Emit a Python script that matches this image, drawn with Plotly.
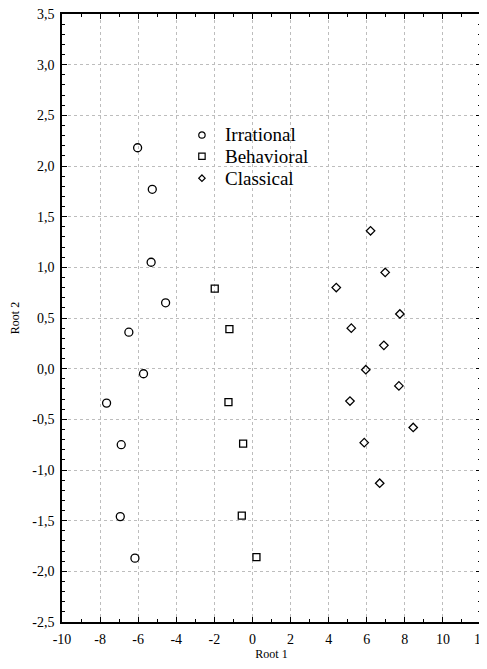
import plotly.graph_objects as go

# Irrational group (circles)
irr_x = [-6.03, -5.26, -5.32, -4.56, -6.49, -5.72, -7.66, -6.89, -6.94, -6.17]
irr_y = [2.18, 1.77, 1.05, 0.65, 0.36, -0.05, -0.34, -0.75, -1.46, -1.87]

# Behavioral group (squares)
beh_x = [-1.98, -1.21, -1.26, -0.49, -0.56, 0.21]
beh_y = [0.79, 0.39, -0.33, -0.74, -1.45, -1.86]

# Classical group (diamonds)
cla_x = [6.20, 6.97, 4.40, 7.74, 5.19, 6.90, 5.95, 7.69, 5.12, 8.44, 5.87, 6.68]
cla_y = [1.36, 0.95, 0.80, 0.54, 0.40, 0.23, -0.01, -0.17, -0.32, -0.58, -0.73, -1.13]

group_names = ["Irrational", "Behavioral", "Classical"]

x_ticks = [-10, -8, -6, -4, -2, 0, 2, 4, 6, 8, 10, 12]
y_ticks = [-2.5, -2.0, -1.5, -1.0, -0.5, 0.0, 0.5, 1.0, 1.5, 2.0, 2.5, 3.0, 3.5]
y_labels = ["-2,5", "-2,0", "-1,5", "-1,0", "-0,5", "0,0", "0,5", "1,0", "1,5", "2,0", "2,5", "3,0", "3,5"]

FONT = "Liberation Serif, Times New Roman, serif"

fig = go.Figure()
series = [
    (group_names[0], irr_x, irr_y, "circle-open", 8),
    (group_names[1], beh_x, beh_y, "square-open", 7),
    (group_names[2], cla_x, cla_y, "diamond-open", 6.5),
]
for name, xs, ys, sym, sz in series:
    fig.add_trace(go.Scatter(
        x=xs, y=ys, mode="markers", name=name, showlegend=False,
        marker=dict(symbol=sym, size=sz, color="black", line=dict(width=1.3, color="black")),
    ))

# Manual legend (symbols as pixel-sized shapes, text as annotations), in paper coordinates
leg_sym_x = 0.334
leg_txt_x = 0.384
leg_rows = [0.801, 0.766, 0.730]
r = 3.2
icon_style = dict(line=dict(color="black", width=1.2), fillcolor="rgba(0,0,0,0)",
                  xref="paper", yref="paper", xsizemode="pixel", ysizemode="pixel")
fig.add_shape(type="circle", xanchor=leg_sym_x, yanchor=leg_rows[0],
              x0=-r, x1=r, y0=-r, y1=r, **icon_style)
fig.add_shape(type="rect", xanchor=leg_sym_x, yanchor=leg_rows[1],
              x0=-r, x1=r, y0=-r, y1=r, **icon_style)
fig.add_shape(type="path", xanchor=leg_sym_x, yanchor=leg_rows[2],
              path=f"M {-r} 0 L 0 {r} L {r} 0 L 0 {-r} Z", **icon_style)
for name, yy in zip(group_names, leg_rows):
    fig.add_annotation(x=leg_txt_x, y=yy, xref="paper", yref="paper", text=name,
                       showarrow=False, xanchor="left", yanchor="middle",
                       font=dict(family=FONT, size=19, color="black"))

axis_common = dict(
    showline=True, linecolor="black", linewidth=1.5, mirror="ticks",
    ticks="inside", ticklen=5, tickcolor="black", tickwidth=1,
    showgrid=True, gridcolor="#bdbdbd", griddash="dot", gridwidth=1,
    zeroline=False, automargin=False, ticklabeloverflow="allow",
    tickfont=dict(family=FONT, size=14, color="black"),
)

fig.update_xaxes(
    range=[-10, 12], tickvals=x_ticks, ticktext=[str(v) for v in x_ticks],
    minor=dict(dtick=1, ticks="inside", ticklen=3, tickcolor="black", showgrid=False),
    ticklabelstandoff=3,
    title=dict(text="Root 1", font=dict(family=FONT, size=12, color="black"), standoff=10),
    **axis_common,
)
fig.update_yaxes(
    range=[-2.5, 3.5], tickvals=y_ticks, ticktext=y_labels,
    minor=dict(dtick=0.1, ticks="inside", ticklen=3, tickcolor="black", showgrid=False),
    ticklabelstandoff=3,
    title=dict(text="Root 2", font=dict(family=FONT, size=12, color="black"), standoff=10),
    **axis_common,
)

# The page body adds an 8px offset; the figure is sized so the page does not scroll
fig.update_layout(
    width=479, height=653,
    margin=dict(l=54, r=6, t=6, b=39),
    paper_bgcolor="white", plot_bgcolor="white",
    font=dict(family=FONT, color="black"),
    showlegend=False,
)

fig.write_html("out.html")
